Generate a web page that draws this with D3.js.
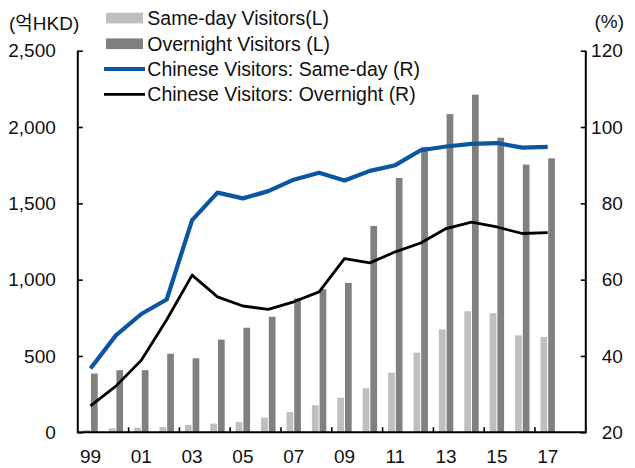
<!DOCTYPE html>
<html>
<head>
<meta charset="utf-8">
<script src="https://cdn.jsdelivr.net/npm/d3@7"></script>
<style>
  html, body { margin: 0; padding: 0; background: #fff; }
  svg { display: block; }
  text { font-family: "Liberation Sans", "Noto Sans CJK KR", sans-serif; fill: #111; }
</style>
</head>
<body>
<svg id="chart" width="635" height="468"></svg>
<script>
// ---- data ----
const years = ["99","00","01","02","03","04","05","06","07","08","09","10","11","12","13","14","15","16","17"];
const labelYears = ["99","01","03","05","07","09","11","13","15","17"];
const sameDayVisitors = [15, 26, 30, 35, 48, 57, 67, 96, 133, 178, 226, 289, 391, 522, 674, 793, 780, 635, 624];
const overnightVisitors = [385, 407, 407, 515, 485, 607, 685, 757, 877, 938, 979, 1352, 1666, 1870, 2085, 2212, 1930, 1754, 1795];
const chineseSameDay = [36.7, 45.4, 51.0, 54.8, 75.6, 82.8, 81.3, 83.2, 86.2, 88.0, 86.0, 88.5, 90.0, 93.9, 94.9, 95.6, 95.8, 94.6, 94.8];
const chineseOvernight = [26.9, 32.1, 38.9, 49.5, 61.2, 55.5, 53.1, 52.2, 54.2, 56.8, 65.5, 64.4, 67.3, 69.6, 73.4, 75.1, 73.8, 72.1, 72.3];
const leftTicks = [0, 500, 1000, 1500, 2000, 2500];
const rightTicks = [20, 40, 60, 80, 100, 120];
const seriesNames = ["Same-day Visitors(L)", "Overnight Visitors (L)", "Chinese Visitors: Same-day (R)", "Chinese Visitors: Overnight (R)"];
const leftUnit = "(억HKD)";
const rightUnit = "(%)";

// ---- layout ----
const L = 77.8, R = 585.8, T = 50.7, B = 432.3;
const step = (R - L) / 20;
const colLight = "#bfbfbf", colDark = "#808080", colBlue = "#0b55a1", colBlack = "#000";
const fs = 19;

const svg = d3.select("#chart");

const x = d3.scaleBand().domain(years).range([L, L + step * years.length]).padding(0);
const yL = d3.scaleLinear().domain([0, 2500]).range([B, T]);
const yR = d3.scaleLinear().domain([20, 120]).range([B, T]);
const bw = x.bandwidth();
const barW = bw * 0.264;
const cx = d => x(d) + bw / 2;

// bars
svg.append("g").selectAll("rect.sd").data(years).join("rect")
  .attr("x", (d) => cx(d) - 0.5 - barW)
  .attr("width", barW)
  .attr("y", (d, i) => yL(sameDayVisitors[i]))
  .attr("height", (d, i) => B - yL(sameDayVisitors[i]))
  .attr("fill", colLight);
svg.append("g").selectAll("rect.ov").data(years).join("rect")
  .attr("x", (d) => cx(d) + 0.5)
  .attr("width", barW)
  .attr("y", (d, i) => yL(overnightVisitors[i]))
  .attr("height", (d, i) => B - yL(overnightVisitors[i]))
  .attr("fill", colDark);

// lines
const line = arr => d3.line().x((d, i) => cx(years[i])).y(d => yR(d))(arr);
svg.append("path").attr("d", line(chineseOvernight)).attr("fill", "none")
  .attr("stroke", colBlack).attr("stroke-width", 2.8).attr("stroke-linejoin", "round");
svg.append("path").attr("d", line(chineseSameDay)).attr("fill", "none")
  .attr("stroke", colBlue).attr("stroke-width", 4.2).attr("stroke-linejoin", "round");

// axes
const axL = svg.append("g").attr("transform", `translate(${L},0)`)
  .call(d3.axisLeft(yL).tickValues(leftTicks).tickFormat(d3.format(",")).tickSize(-5).tickPadding(22));
const axR = svg.append("g").attr("transform", `translate(${R},0)`)
  .call(d3.axisRight(yR).tickValues(rightTicks).tickSize(-5).tickPadding(37));
axR.selectAll("text").attr("text-anchor", "end");
[axL, axR].forEach(a => {
  a.select(".domain").remove();
  a.selectAll("line").attr("stroke", "#000").attr("stroke-width", 1.6);
  a.selectAll("text").attr("font-size", fs).attr("font-family", null).attr("fill", "#111");
});
// frame lines (left, right, bottom)
svg.append("path").attr("d", `M${L},${T}V${B}H${R}V${T}`).attr("fill", "none")
  .attr("stroke", "#000").attr("stroke-width", 2);

// bottom axis: labels at band centers, ticks at band starts pointing up
const axB = svg.append("g").attr("transform", `translate(0,${B})`)
  .call(d3.axisBottom(x).tickValues(labelYears).tickSize(0).tickPadding(0));
axB.select(".domain").remove();
axB.selectAll("text").attr("font-size", fs).attr("font-family", null).attr("fill", "#111")
  .attr("y", 31).attr("dy", 0);
svg.append("g").selectAll("line").data(labelYears.slice(1)).join("line")
  .attr("x1", d => x(d)).attr("x2", d => x(d)).attr("y1", B).attr("y2", B - 5)
  .attr("stroke", "#000").attr("stroke-width", 1.6);

// units
svg.append("text").attr("x", 9).attr("y", 23).attr("dominant-baseline", "central")
  .attr("font-size", fs).text(leftUnit);
svg.append("text").attr("x", 624).attr("y", 21).attr("dominant-baseline", "central")
  .attr("text-anchor", "end").attr("font-size", fs).text(rightUnit);

// legend
const lg = svg.append("g");
const rowY = [18, 43.7, 69, 94.3];
[colLight, colDark].forEach((c, i) => {
  lg.append("rect").attr("x", 106).attr("y", rowY[i] - 5.3).attr("width", 37).attr("height", 10.7).attr("fill", c);
});
[[colBlue, 4.2], [colBlack, 2.8]].forEach(([c, w], i) => {
  lg.append("line").attr("x1", 104).attr("x2", 145).attr("y1", rowY[i + 2]).attr("y2", rowY[i + 2])
    .attr("stroke", c).attr("stroke-width", w);
});
seriesNames.forEach((s, i) => {
  lg.append("text").attr("x", 147.3).attr("y", rowY[i]).attr("dominant-baseline", "central")
    .attr("font-size", 19.5).text(s);
});
</script>
</body>
</html>
